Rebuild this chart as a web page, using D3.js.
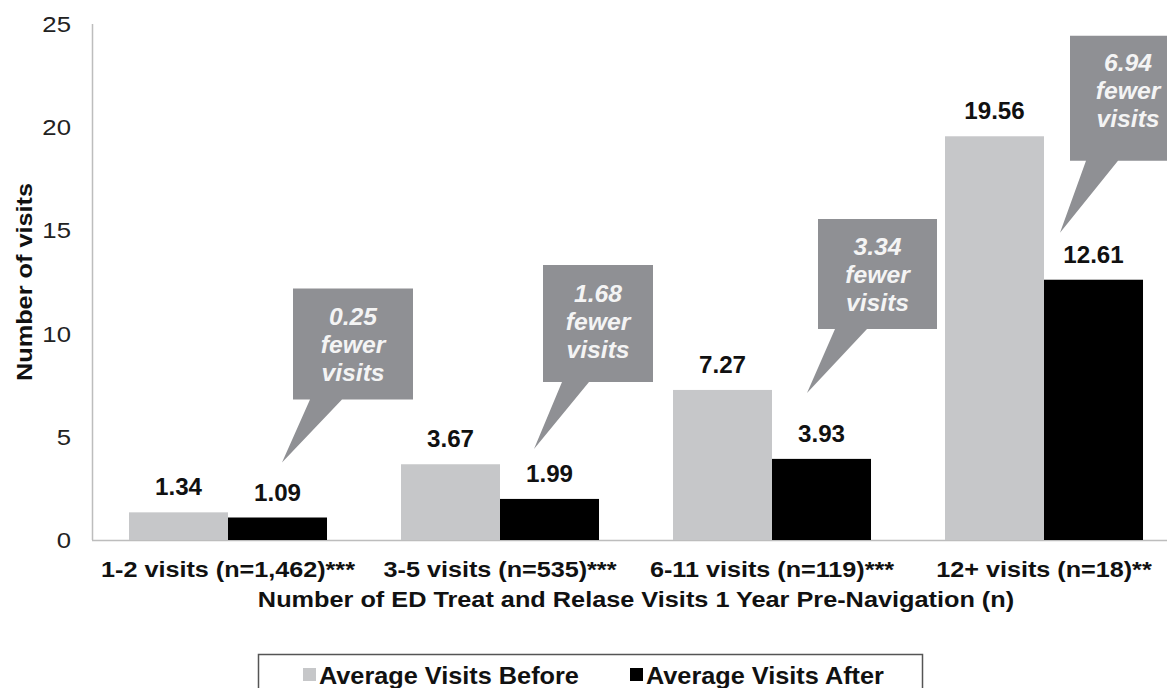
<!DOCTYPE html>
<html>
<head>
<meta charset="utf-8">
<title>ED visits before and after navigation</title>
<script src="https://cdn.jsdelivr.net/npm/d3@7"></script>
<style>
  body { margin: 0; background: #fff; }
  svg { font-family: "Liberation Sans", Arial, sans-serif; display: block; }
  .ytick { font-size: 23px; fill: #222; }
  .xtick { font-size: 22px; font-weight: bold; fill: #111; }
  .vlab { font-size: 23px; font-weight: bold; fill: #111; }
  .atitle { font-size: 22px; font-weight: bold; fill: #111; }
  .callout text { font-size: 24px; font-weight: bold; font-style: italic; fill: #f4f4f4; }
  .legend text { font-size: 23px; font-weight: bold; fill: #111; }
</style>
</head>
<body>
<svg width="1167" height="688"></svg>
<script>
// chart values
var categories = ["1-2 visits (n=1,462)***", "3-5 visits (n=535)***", "6-11 visits (n=119)***", "12+ visits (n=18)**"];
var series = ["Average Visits Before", "Average Visits After"];
var before = [1.34, 3.67, 7.27, 19.56];
var after = [1.09, 1.99, 3.93, 12.61];
var fewer = [0.25, 1.68, 3.34, 6.94];
var yTicks = [0, 5, 10, 15, 20, 25];

// callout placement (pixels, relative to the "after" bar top-left)
var calloutLayout = [
  {tipDx: 54, tipDy: 55, boxDx: 11, boxW: 120, boxBottom: 63, boxH: 111, b0: 17, b1: 49, pad: 28},
  {tipDx: 34, tipDy: 50, boxDx: 9,  boxW: 110, boxBottom: 67, boxH: 117, b0: 19, b1: 46, pad: 29},
  {tipDx: 35, tipDy: 66, boxDx: 11, boxW: 119, boxBottom: 64, boxH: 110, b0: 17, b1: 49, pad: 28},
  {tipDx: 16, tipDy: 47, boxDx: 10, boxW: 116, boxBottom: 72, boxH: 125, b0: 16, b1: 48, pad: 27}
];

var colors = {before: "#c6c7c9", after: "#000000"};

// the original typeface is wider than Liberation Sans, so text gets stretched along its line
function place(sel, x, y, sx, rot) {
  sel.attr("transform", "translate(" + x + "," + y + ")" + (rot ? " rotate(" + rot + ")" : "") + " scale(" + sx + ",1)");
}

var svg = d3.select("svg");

var y = d3.scaleLinear().domain([0, 25]).range([540, 24]);
var x0 = d3.scaleBand().domain(categories).range([92, 1180])
  .paddingInner(0.272).paddingOuter(0.136);
var x1 = d3.scaleBand().domain(series).range([0, x0.bandwidth()]);

var rows = categories.map(function(c, i) {
  return {cat: c, vals: [{s: series[0], v: before[i], col: colors.before},
                         {s: series[1], v: after[i], col: colors.after}]};
});

// axes lines
svg.append("line").attr("x1", 92.5).attr("x2", 92.5).attr("y1", y(25)).attr("y2", y(0))
  .attr("stroke", "#bdbdbd").attr("stroke-width", 1.5);
svg.append("line").attr("x1", 92).attr("x2", 1167).attr("y1", y(0) + 0.5).attr("y2", y(0) + 0.5)
  .attr("stroke", "#bdbdbd").attr("stroke-width", 1.5);

// y tick labels
svg.append("g").selectAll("text").data(yTicks).enter().append("text")
  .attr("class", "ytick")
  .attr("dy", "0.35em").attr("text-anchor", "end")
  .each(function(d) { place(d3.select(this), 71, y(d), 1.12); })
  .text(function(d) { return d; });

// bars
var g = svg.append("g").selectAll("g").data(rows).enter().append("g")
  .attr("transform", function(d) { return "translate(" + x0(d.cat) + ",0)"; });

g.selectAll("rect").data(function(d) { return d.vals; }).enter().append("rect")
  .attr("x", function(d) { return x1(d.s); })
  .attr("y", function(d) { return y(d.v); })
  .attr("width", x1.bandwidth())
  .attr("height", function(d) { return y(0) - y(d.v); })
  .attr("fill", function(d) { return d.col; });

g.selectAll("text.vlab").data(function(d) { return d.vals; }).enter().append("text")
  .attr("class", "vlab")
  .attr("text-anchor", "middle")
  .each(function(d) { place(d3.select(this), x1(d.s) + x1.bandwidth() / 2, y(d.v) - 17, 1.05); })
  .text(function(d) { return d.v.toFixed(2); });

// x tick labels
svg.append("g").selectAll("text").data(categories).enter().append("text")
  .attr("class", "xtick")
  .attr("text-anchor", "middle")
  .each(function(d) { place(d3.select(this), x0(d) + x0.bandwidth() / 2, 577, 1.145); })
  .text(function(d) { return d; });

// axis titles
svg.append("text").attr("class", "atitle")
  .attr("text-anchor", "middle")
  .call(place, 636, 607, 1.15)
  .text("Number of ED Treat and Relase Visits 1 Year Pre-Navigation (n)");
svg.append("text").attr("class", "atitle")
  .attr("text-anchor", "middle")
  .call(place, 32, y(12.5), 1.15, -90)
  .text("Number of visits");

// callouts
var co = svg.append("g").attr("class", "callout").selectAll("g").data(fewer).enter().append("g");
co.each(function(d, i) {
  var L = calloutLayout[i];
  var barLeft = x0(categories[i]) + x1(series[1]);
  var tx = barLeft + L.tipDx, ty = y(after[i]) - L.tipDy;
  var bx = tx + L.boxDx, bb = ty - L.boxBottom, bt = bb - L.boxH;
  var sel = d3.select(this);
  sel.append("path")
    .attr("d", "M" + bx + "," + bt + "H" + (bx + L.boxW) + "V" + bb +
      "H" + (bx + L.b1) + "L" + tx + "," + ty + "L" + (bx + L.b0) + "," + bb +
      "H" + bx + "Z")
    .attr("fill", "#8f9094");
  var lines = [d.toFixed(2), "fewer", "visits"];
  sel.selectAll("text").data(lines).enter().append("text")
    .attr("dy", "0.35em").attr("text-anchor", "middle")
    .each(function(t, j) { place(d3.select(this), bx + L.boxW / 2, bt + L.pad + j * 28, 1.03); })
    .text(function(t) { return t; });
});

// legend
var lg = svg.append("g").attr("class", "legend");
lg.append("rect").attr("x", 258.5).attr("y", 654.5).attr("width", 664).attr("height", 60)
  .attr("fill", "none").attr("stroke", "#555").attr("stroke-width", 1.5);
var legX = [303, 630];
series.forEach(function(s, i) {
  lg.append("rect").attr("x", legX[i]).attr("y", 668).attr("width", 13).attr("height", 13)
    .attr("fill", i === 0 ? colors.before : colors.after);
  lg.append("text").call(place, legX[i] + 16, 684, 1.1).text(s);
});
</script>
</body>
</html>
